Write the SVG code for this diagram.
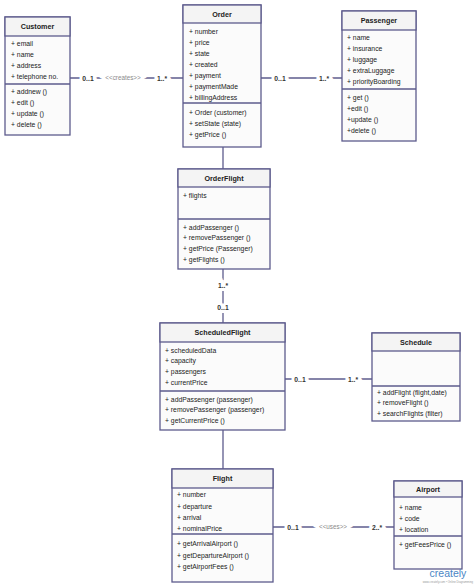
<svg xmlns="http://www.w3.org/2000/svg" width="474" height="586" viewBox="0 0 474 586">
<style>
.box{fill:#fbfbfb;stroke:#5d5b8d;stroke-width:1.3}
.hdr{fill:#f4f4f4;stroke:#5d5b8d;stroke-width:1.3}
.div{stroke:#5d5b8d;stroke-width:1.3}
.t{font-family:"Liberation Sans",Arial,sans-serif;font-size:6.8px;fill:#222}
.ti{font-family:"Liberation Sans",Arial,sans-serif;font-size:7.2px;font-weight:bold;fill:#222;text-anchor:middle}
.ln{stroke:#5d5b8d;stroke-width:1.3;fill:none}
.m{font-family:"Liberation Sans",Arial,sans-serif;font-size:6.8px;font-weight:bold;fill:#333;text-anchor:middle;paint-order:stroke;stroke:#fff;stroke-width:6}
.s{font-family:"Liberation Sans",Arial,sans-serif;font-size:6.3px;fill:#8a8a8a;text-anchor:middle;paint-order:stroke;stroke:#fff;stroke-width:6}
</style>
<rect width="474" height="586" fill="#fff"/>
<g id="connectors">
<line class="ln" x1="70" y1="78" x2="183" y2="78"/>
<line class="ln" x1="261" y1="78" x2="342" y2="78"/>
<line class="ln" x1="223" y1="147" x2="223" y2="169"/>
<line class="ln" x1="223" y1="269" x2="223" y2="323"/>
<line class="ln" x1="285" y1="379" x2="372" y2="379"/>
<line class="ln" x1="223" y1="430" x2="223" y2="469"/>
<line class="ln" x1="273" y1="527" x2="394" y2="527"/>
<text class="m" x="88" y="80.5">0..1</text>
<text class="s" x="123" y="80.3">&lt;&lt;creates&gt;&gt;</text>
<text class="m" x="162" y="80.5">1..*</text>
<text class="m" x="280" y="80.5">0..1</text>
<text class="m" x="324" y="80.5">1..*</text>
<text class="m" x="223" y="288">1..*</text>
<text class="m" x="223" y="309.5">0..1</text>
<text class="m" x="300" y="381.5">0..1</text>
<text class="m" x="353" y="381.5">1..*</text>
<text class="m" x="293" y="529.5">0..1</text>
<text class="s" x="333" y="529.3">&lt;&lt;uses&gt;&gt;</text>
<text class="m" x="377" y="529.5">2..*</text>
</g>
<g id="customer">
<rect class="box" x="5" y="17" width="65" height="118"/>
<rect class="hdr" x="5" y="17" width="65" height="19"/>
<line class="div" x1="5" y1="84" x2="70" y2="84"/>
<text class="ti" x="37.5" y="29">Customer</text>
<text class="t" x="11" y="45.5">+ email</text>
<text class="t" x="11" y="56.5">+ name</text>
<text class="t" x="11" y="67.5">+ address</text>
<text class="t" x="11" y="78.5">+ telephone no.</text>
<text class="t" x="11" y="93.5">+ addnew ()</text>
<text class="t" x="11" y="104.5">+ edit ()</text>
<text class="t" x="11" y="115.5">+ update ()</text>
<text class="t" x="11" y="126.5">+ delete ()</text>
</g>
<g id="order">
<rect class="box" x="183" y="5" width="78" height="142"/>
<rect class="hdr" x="183" y="5" width="78" height="18"/>
<line class="div" x1="183" y1="103" x2="261" y2="103"/>
<text class="ti" x="222" y="16.5">Order</text>
<text class="t" x="189" y="33.5">+ number</text>
<text class="t" x="189" y="44.5">+ price</text>
<text class="t" x="189" y="55.5">+ state</text>
<text class="t" x="189" y="66.5">+ created</text>
<text class="t" x="189" y="77.5">+ payment</text>
<text class="t" x="189" y="88.5">+ paymentMade</text>
<text class="t" x="189" y="99.5">+ billingAddress</text>
<text class="t" x="189" y="114.5">+ Order (customer)</text>
<text class="t" x="189" y="125.5">+ setState (state)</text>
<text class="t" x="189" y="136.5">+ getPrice ()</text>
</g>
<g id="passenger">
<rect class="box" x="342" y="11" width="74" height="130"/>
<rect class="hdr" x="342" y="11" width="74" height="19"/>
<line class="div" x1="342" y1="89" x2="416" y2="89"/>
<text class="ti" x="379" y="23">Passenger</text>
<text class="t" x="347" y="39.5">+ name</text>
<text class="t" x="347" y="50.5">+ insurance</text>
<text class="t" x="347" y="61.5">+ luggage</text>
<text class="t" x="347" y="72.5">+ extraLuggage</text>
<text class="t" x="347" y="83.5">+ priorityBoarding</text>
<text class="t" x="347" y="99.5">+ get ()</text>
<text class="t" x="347" y="110.5">+edit ()</text>
<text class="t" x="347" y="121.5">+update ()</text>
<text class="t" x="347" y="132.5">+delete ()</text>
</g>
<g id="orderflight">
<rect class="box" x="178" y="169" width="92" height="100"/>
<rect class="hdr" x="178" y="169" width="92" height="18"/>
<line class="div" x1="178" y1="219" x2="270" y2="219"/>
<text class="ti" x="224" y="180.5">OrderFlight</text>
<text class="t" x="183" y="197.5">+ flights</text>
<text class="t" x="183" y="229.5">+ addPassenger ()</text>
<text class="t" x="183" y="240.2">+ removePassenger ()</text>
<text class="t" x="183" y="250.9">+ getPrice (Passenger)</text>
<text class="t" x="183" y="261.6">+ getFlights ()</text>
</g>
<g id="scheduledflight">
<rect class="box" x="160" y="323" width="125" height="107"/>
<rect class="hdr" x="160" y="323" width="125" height="19"/>
<line class="div" x1="160" y1="391" x2="285" y2="391"/>
<text class="ti" x="222.5" y="335">ScheduledFlight</text>
<text class="t" x="165" y="352.5">+ scheduledData</text>
<text class="t" x="165" y="363.3">+ capacity</text>
<text class="t" x="165" y="374">+ passengers</text>
<text class="t" x="165" y="384.7">+ currentPrice</text>
<text class="t" x="165" y="401.5">+ addPassenger (passenger)</text>
<text class="t" x="165" y="412.2">+ removePassenger (passenger)</text>
<text class="t" x="165" y="422.9">+ getCurrentPrice ()</text>
</g>
<g id="schedule">
<rect class="box" x="372" y="333" width="88" height="88"/>
<rect class="hdr" x="372" y="333" width="88" height="18"/>
<line class="div" x1="372" y1="386" x2="460" y2="386"/>
<text class="ti" x="416" y="344.5">Schedule</text>
<text class="t" x="377" y="394.5">+ addFlight (flight,date)</text>
<text class="t" x="377" y="405.3">+ removeFlight ()</text>
<text class="t" x="377" y="416">+ searchFlights (filter)</text>
</g>
<g id="flight">
<rect class="box" x="172" y="469" width="101" height="113"/>
<rect class="hdr" x="172" y="469" width="101" height="19"/>
<line class="div" x1="172" y1="534" x2="273" y2="534"/>
<text class="ti" x="222.5" y="481">Flight</text>
<text class="t" x="177" y="496.8">+ number</text>
<text class="t" x="177" y="508.5">+ departure</text>
<text class="t" x="177" y="519.8">+ arrival</text>
<text class="t" x="177" y="530.8">+ nominalPrice</text>
<text class="t" x="177" y="545.8">+ getArrivalAirport ()</text>
<text class="t" x="177" y="557.5">+ getDepartureAirport ()</text>
<text class="t" x="177" y="568.5">+ getAirportFees ()</text>
</g>
<g id="airport">
<rect class="box" x="394" y="481" width="68" height="88"/>
<rect class="hdr" x="394" y="481" width="68" height="16"/>
<line class="div" x1="394" y1="536" x2="462" y2="536"/>
<text class="ti" x="428" y="491.5">Airport</text>
<text class="t" x="399" y="509.8">+ name</text>
<text class="t" x="399" y="520.8">+ code</text>
<text class="t" x="399" y="531.8">+ location</text>
<text class="t" x="399" y="547.2">+ getFeesPrice ()</text>
</g>
<g id="logo">
<text x="448" y="577" font-family="Liberation Sans,Arial,sans-serif" font-size="10.5px" fill="#4a86c5" text-anchor="middle">creately</text>
<text x="448" y="582.5" font-family="Liberation Sans,Arial,sans-serif" font-size="2.8px" fill="#9a9a9a" text-anchor="middle">www.creately.com • Online Diagramming</text>
</g>
</svg>
